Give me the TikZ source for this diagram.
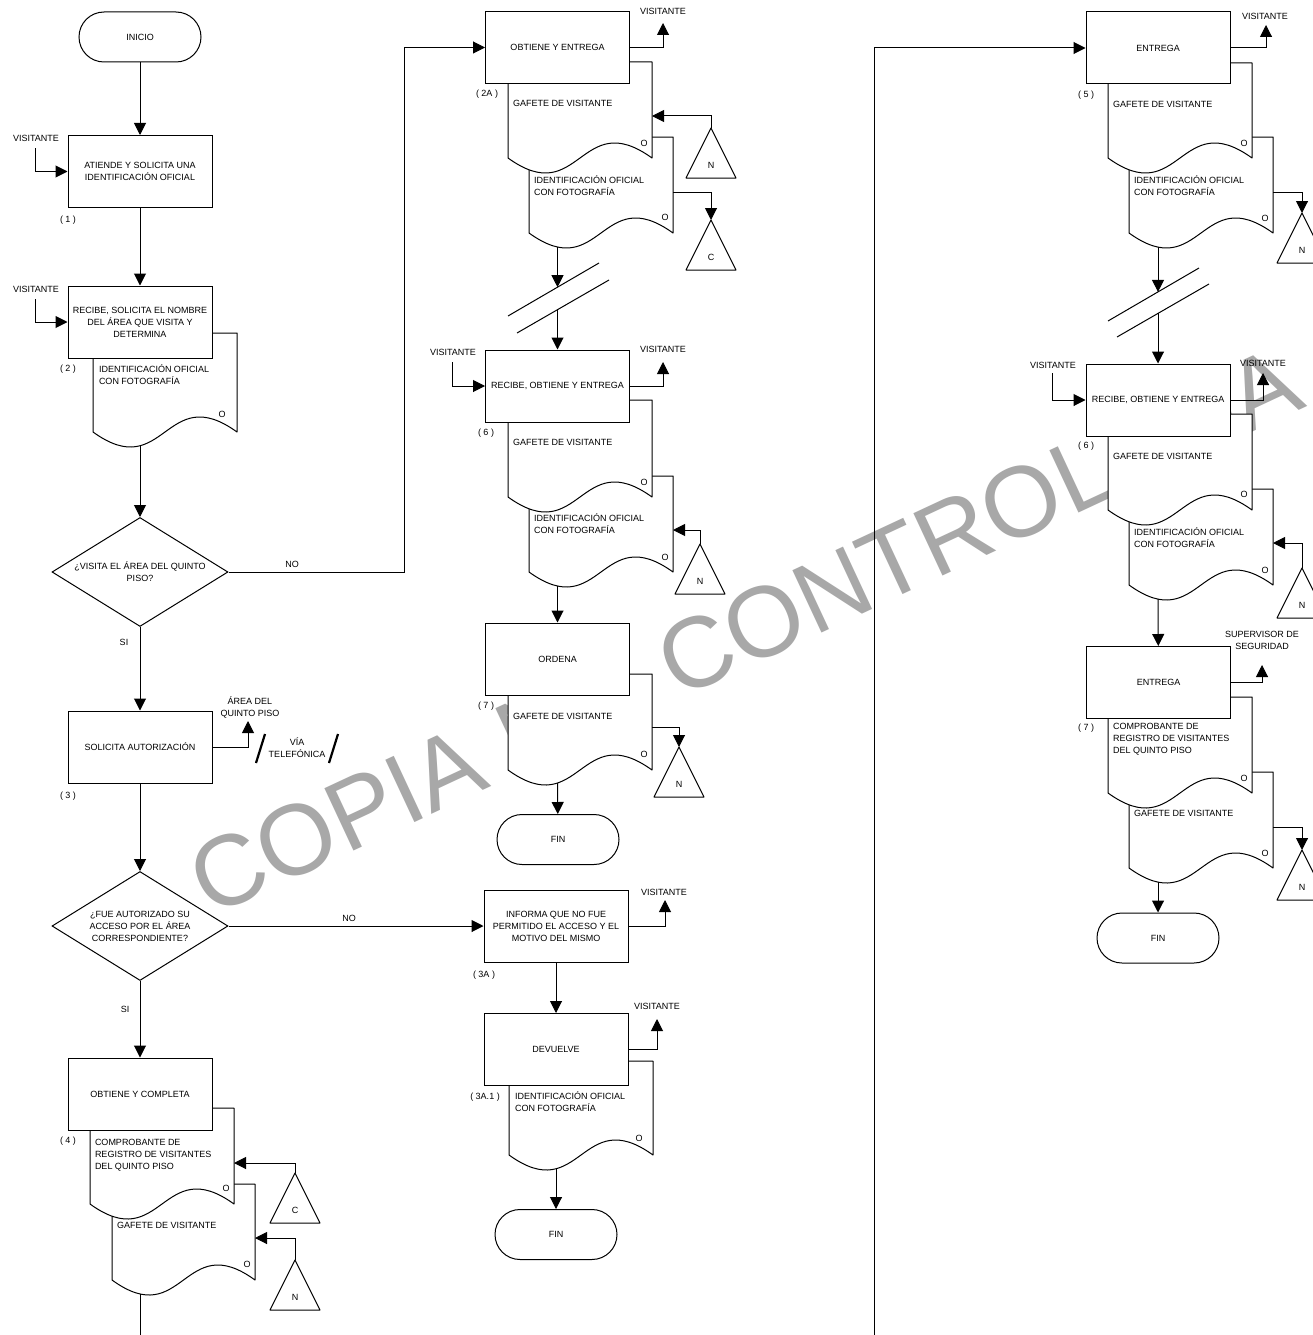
\documentclass[tikz,border=0pt]{standalone}
\usepackage{fontspec}
\setmainfont{Liberation Sans}
\usetikzlibrary{arrows.meta,shapes.geometric}

% document symbol: left x, right x, top y, bottom y
\newcommand{\docpath}[4]{%
  \path[docline] (#1,#3) -- (#2,#3) -- (#2,#4)
    .. controls ({(#1+#2)/2},#4-52) and ({(#1+#2)/2},#4+52) .. (#1,#4) -- cycle;}
% off-page connector: name, apex x, apex y, letter
\newcommand{\offpage}[4]{%
  \path[docline] (#2,#3) -- (#2-25,#3+50) -- (#2+25,#3+50) -- cycle;
  \coordinate (#1) at (#2,#3);
  \node[txt] (#1-l) at (#2,#3+37) {#4};}

\begin{document}
\begin{tikzpicture}[x=1pt,y=-1pt,
  font=\fontsize{9}{12}\selectfont,
  txt/.style={inner sep=0pt,outer sep=0pt,align=center,text=drawColor},
  doctxt/.style={anchor=west,inner sep=0pt,outer sep=0pt,align=left,text=drawColor},
  procbox/.style={draw=drawColor,fill=white,line width=1pt,minimum width=144pt,
    minimum height=72pt,inner sep=0pt,align=center},
  termbox/.style={draw=drawColor,fill=white,line width=1pt,rounded corners=25pt,
    minimum width=122pt,minimum height=50pt,inner sep=0pt},
  decbox/.style={diamond,draw=drawColor,fill=white,line width=1pt,aspect=1.6,
    minimum width=176pt,minimum height=109pt,inner sep=0pt,align=center},
  docline/.style={draw=drawColor,fill=white,line width=1pt,line join=round},
  plainline/.style={draw=drawColor,line width=1pt},
  slashline/.style={draw=drawColor,line width=2.2pt},
  flow/.style={draw=drawColor,line width=1pt,-{Triangle[length=12pt,width=12pt]}},
  wmark/.style={anchor=base west,rotate=25,inner sep=0pt,text=markColor,
    font=\fontsize{100}{100}\selectfont}]
\definecolor{drawColor}{RGB}{0,0,0}
\definecolor{markColor}{RGB}{168,168,168}
\path[use as bounding box,fill=white] (0,0) rectangle (1313,1335);
\begin{scope}
\path[clip] (0,0) rectangle (1313,1335);

\node[wmark] (wm) at (210,918) {COPIA NO CONTROLADA};

% left column
\node[termbox] (inicio) at (140,37) {INICIO};
\node[procbox] (p1) at (140,171.5) {ATIENDE Y SOLICITA UNA\\IDENTIFICACIÓN OFICIAL};
\node[txt] (n1) at (68,220) {( 1 )};
\node[txt] (v1) at (36,138) {VISITANTE};
\coordinate (i1) at (35,148);

\docpath{93}{237}{333}{432}
\node[procbox] (p2) at (140,322) {RECIBE, SOLICITA EL NOMBRE\\DEL ÁREA QUE VISITA Y\\DETERMINA};
\node[txt] (n2) at (68,369) {( 2 )};
\node[txt] (v2) at (36,289) {VISITANTE};
\coordinate (i2) at (35,299);
\node[doctxt] (d2t) at (99,375) {IDENTIFICACIÓN OFICIAL\\CON FOTOGRAFÍA};
\node[txt] (d2o) at (222,414) {O};
\coordinate (d2b) at (140,445);

\node[decbox] (dec1) at (140,572) {¿VISITA EL ÁREA DEL QUINTO\\PISO?};
\coordinate (no1) at (404,572);
\node[txt] (lno1) at (292,564) {NO};
\node[txt] (lsi1) at (124,642) {SI};

\node[procbox] (p3) at (140,747) {SOLICITA AUTORIZACIÓN};
\node[txt] (n3) at (68,796) {( 3 )};
\node[txt] (area) at (250,707.5) {ÁREA DEL\\QUINTO PISO};
\coordinate (o3) at (248,721);
\path[slashline] (256,763) -- (265,734);
\path[slashline] (329,763) -- (338,734);
\node[txt] (via) at (297,748) {VÍA\\TELEFÓNICA};

\node[decbox] (dec2) at (140,926) {¿FUE AUTORIZADO SU\\ACCESO POR EL ÁREA\\CORRESPONDIENTE?};
\node[txt] (lno2) at (349,918) {NO};
\node[txt] (lsi2) at (125,1009) {SI};

\docpath{112}{255}{1184}{1280}
\docpath{90}{234}{1108}{1204}
\node[procbox] (p4) at (140,1094) {OBTIENE Y COMPLETA};
\node[txt] (n4) at (68,1141) {( 4 )};
\node[doctxt] (d4t1) at (95,1155) {COMPROBANTE DE\\REGISTRO DE VISITANTES\\DEL QUINTO PISO};
\node[txt] (d4o1) at (226,1188) {O};
\node[doctxt] (d4t2) at (117,1225) {GAFETE DE VISITANTE};
\node[txt] (d4o2) at (247,1264) {O};
\offpage{c4}{295}{1173}{C}
\offpage{n4t}{295}{1260}{N}
\coordinate (e4a) at (234,1163);
\coordinate (e4b) at (255,1238);
\coordinate (d4b) at (140,1294);
\coordinate (lend) at (140,1335);

% middle column
\docpath{529}{673}{137}{233}
\docpath{508}{652}{62}{158}
\node[procbox] (p2a) at (557.5,47.5) {OBTIENE Y ENTREGA};
\node[txt] (n2a) at (487,94) {( 2A )};
\node[txt] (v2a) at (663,11) {VISITANTE};
\coordinate (o2a) at (663,23);
\node[doctxt] (d2at1) at (513,103) {GAFETE DE VISITANTE};
\node[txt] (d2ao1) at (644,143) {O};
\node[doctxt] (d2at2) at (534,186) {IDENTIFICACIÓN OFICIAL\\CON FOTOGRAFÍA};
\node[txt] (d2ao2) at (665,217) {O};
\offpage{n2at}{711}{128}{N}
\offpage{c2at}{711}{220}{C}
\coordinate (e2a) at (652,116);
\coordinate (s2a) at (673,192);
\coordinate (d2ab) at (557.5,247);
\path[plainline] (508,316) -- (599,263);
\path[plainline] (517,333) -- (609,280);
\coordinate (cut1) at (557.5,287.2);
\coordinate (cut2) at (557.5,309.7);

\docpath{529}{673}{476}{572}
\docpath{508}{652}{400}{497}
\node[procbox] (p6) at (557.5,386) {RECIBE, OBTIENE Y ENTREGA};
\node[txt] (n6) at (486,433) {( 6 )};
\node[txt] (v6i) at (453,352) {VISITANTE};
\coordinate (i6) at (452,362);
\node[txt] (v6o) at (663,349) {VISITANTE};
\coordinate (o6) at (663,362);
\node[doctxt] (d6t1) at (513,442) {GAFETE DE VISITANTE};
\node[txt] (d6o1) at (644,482) {O};
\node[doctxt] (d6t2) at (534,524) {IDENTIFICACIÓN OFICIAL\\CON FOTOGRAFÍA};
\node[txt] (d6o2) at (665,557) {O};
\offpage{n6t}{700}{544}{N}
\coordinate (e6) at (673,530);
\coordinate (d6b) at (557.5,586);

\docpath{508}{652}{674}{770}
\node[procbox] (p7) at (557.5,659) {ORDENA};
\node[txt] (n7) at (486,706) {( 7 )};
\node[doctxt] (d7t) at (513,716) {GAFETE DE VISITANTE};
\node[txt] (d7o) at (644,754) {O};
\offpage{n7t}{679}{747}{N}
\coordinate (s7) at (652,727);
\coordinate (d7b) at (557.5,783);
\node[termbox] (fin1) at (558,839.5) {FIN};

\node[procbox] (p3a) at (556,926) {INFORMA QUE NO FUE\\PERMITIDO EL ACCESO Y EL\\MOTIVO DEL MISMO};
\node[txt] (n3a) at (484,975) {( 3A )};
\node[txt] (v3a) at (664,892) {VISITANTE};
\coordinate (o3a) at (665,900);

\docpath{509}{653}{1061}{1155}
\node[procbox] (p3a1) at (556,1049.5) {DEVUELVE};
\node[txt] (n3a1) at (485,1097) {( 3A.1 )};
\node[txt] (v3a1) at (657,1006) {VISITANTE};
\coordinate (o3a1) at (657,1019);
\node[doctxt] (d3a1t) at (515,1102) {IDENTIFICACIÓN OFICIAL\\CON FOTOGRAFÍA};
\node[txt] (d3a1o) at (639,1138) {O};
\coordinate (d3a1b) at (556,1168);
\node[termbox] (fin2) at (556,1234.5) {FIN};

% right column
\coordinate (rin) at (874,1335);
\docpath{1129}{1273}{137}{233}
\docpath{1108}{1252}{63}{158}
\node[procbox] (p5) at (1158,48) {ENTREGA};
\node[txt] (n5) at (1086,95) {( 5 )};
\node[txt] (v5) at (1265,16) {VISITANTE};
\coordinate (o5) at (1266,25);
\node[doctxt] (d5t1) at (1113,104) {GAFETE DE VISITANTE};
\node[txt] (d5o1) at (1244,143) {O};
\node[doctxt] (d5t2) at (1134,186) {IDENTIFICACIÓN OFICIAL\\CON FOTOGRAFÍA};
\node[txt] (d5o2) at (1265,218) {O};
\offpage{n5t}{1302}{213}{N}
\coordinate (s5) at (1273,192);
\coordinate (d5b) at (1158,247);
\path[plainline] (1108,321) -- (1199,268);
\path[plainline] (1117,337) -- (1209,284);
\coordinate (cut3) at (1158,291.9);
\coordinate (cut4) at (1158,313.4);

\docpath{1129}{1273}{489}{585}
\docpath{1108}{1252}{414}{510}
\node[procbox] (p6r) at (1158,400) {RECIBE, OBTIENE Y ENTREGA};
\node[txt] (n6r) at (1086,446) {( 6 )};
\node[txt] (v6ri) at (1053,365) {VISITANTE};
\coordinate (i6r) at (1052,373);
\node[txt] (v6ro) at (1263,363) {VISITANTE};
\coordinate (o6r) at (1263,373);
\node[doctxt] (d6rt1) at (1113,456) {GAFETE DE VISITANTE};
\node[txt] (d6ro1) at (1244,494) {O};
\node[doctxt] (d6rt2) at (1134,538) {IDENTIFICACIÓN OFICIAL\\CON FOTOGRAFÍA};
\node[txt] (d6ro2) at (1265,570) {O};
\offpage{n6rt}{1302}{568}{N}
\coordinate (e6r) at (1273,543);
\coordinate (d6rb) at (1158,599);

\docpath{1129}{1273}{772}{868}
\docpath{1108}{1252}{697}{793}
\node[procbox] (p7r) at (1158.5,682.5) {ENTREGA};
\node[txt] (n7r) at (1086,728) {( 7 )};
\node[txt] (sup) at (1262,640.5) {SUPERVISOR DE\\SEGURIDAD};
\coordinate (o7r) at (1262,665);
\node[doctxt] (d7rt1) at (1113,739) {COMPROBANTE DE\\REGISTRO DE VISITANTES\\DEL QUINTO PISO};
\node[txt] (d7ro1) at (1244,778) {O};
\node[doctxt] (d7rt2) at (1134,813) {GAFETE DE VISITANTE};
\node[txt] (d7ro2) at (1265,853) {O};
\offpage{n7rt}{1302}{850}{N}
\coordinate (s7r) at (1273,827);
\coordinate (d7rb) at (1158,882);
\node[termbox] (fin3) at (1158,938) {FIN};

% connectors
\draw[flow] (inicio) -- (p1);
\draw[flow] (i1) |- (p1.west);
\draw[flow] (p1) -- (p2);
\draw[flow] (i2) |- (p2.west);
\draw[flow] (d2b) -- (dec1);
\draw[flow] (dec1.east) -- (no1) |- (p2a.west);
\draw[flow] (dec1) -- (p3);
\draw[flow] (p3.east) -| (o3);
\draw[flow] (p3) -- (dec2);
\draw[flow] (dec2.east) -- (p3a.west);
\draw[flow] (dec2) -- (p4);
\draw[flow] (c4) |- (e4a);
\draw[flow] (n4t) |- (e4b);
\path[plainline] (d4b) -- (lend);

\draw[flow] (p2a.east) -| (o2a);
\draw[flow] (n2at) |- (e2a);
\draw[flow] (s2a) -| (c2at);
\draw[flow] (d2ab) -- (cut1);
\draw[flow] (cut2) -- (p6);
\draw[flow] (i6) |- (p6.west);
\draw[flow] (p6.east) -| (o6);
\draw[flow] (n6t) |- (e6);
\draw[flow] (d6b) -- (p7);
\draw[flow] (s7) -| (n7t);
\draw[flow] (d7b) -- (fin1);
\draw[flow] (p3a.east) -| (o3a);
\draw[flow] (p3a) -- (p3a1);
\draw[flow] (p3a1.east) -| (o3a1);
\draw[flow] (d3a1b) -- (fin2);

\draw[flow] (rin) |- (p5.west);
\draw[flow] (p5.east) -| (o5);
\draw[flow] (s5) -| (n5t);
\draw[flow] (d5b) -- (cut3);
\draw[flow] (cut4) -- (p6r);
\draw[flow] (i6r) |- (p6r.west);
\draw[flow] (p6r.east) -| (o6r);
\draw[flow] (n6rt) |- (e6r);
\draw[flow] (d6rb) -- (p7r);
\draw[flow] (p7r.east) -| (o7r);
\draw[flow] (s7r) -| (n7rt);
\draw[flow] (d7rb) -- (fin3);
\end{scope}
\end{tikzpicture}
\end{document}
